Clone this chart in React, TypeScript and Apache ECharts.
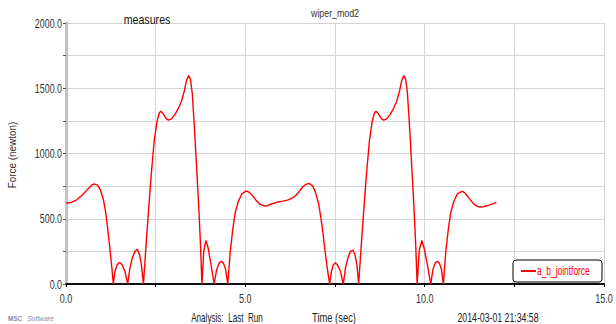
import React, { useEffect, useRef } from "react";
import * as echarts from "echarts";

const timeSec: number[] = [
  0.0, 0.15, 0.3, 0.45, 0.6, 0.7, 0.79, 0.88, 0.96, 1.04, 1.1, 1.16, 1.22, 1.28, 1.32,
  1.36, 1.42, 1.49, 1.56, 1.64, 1.72, 1.78, 1.85, 1.92, 1.99, 2.05, 2.1, 2.16,
  2.22, 2.3, 2.38, 2.46, 2.54, 2.6, 2.65, 2.72, 2.8, 2.86, 2.94, 3.04, 3.14, 3.22, 3.3,
  3.36, 3.42, 3.47, 3.52, 3.58, 3.64, 3.7, 3.75, 3.79, 3.84, 3.9, 3.96, 4.03, 4.13,
  4.2, 4.27, 4.33, 4.39, 4.45, 4.51, 4.58, 4.65, 4.72, 4.8, 4.9, 5.0, 5.05, 5.12,
  5.22, 5.32, 5.42, 5.52, 5.62, 5.75, 5.9, 6.05, 6.2, 6.35, 6.48, 6.6, 6.7, 6.79,
  6.88, 6.96, 7.04, 7.1, 7.16, 7.22, 7.28, 7.35, 7.4, 7.45, 7.51, 7.57, 7.65, 7.73,
  7.79, 7.86, 7.93, 8.0, 8.06, 8.11, 8.16, 8.22, 8.3, 8.38, 8.46, 8.54, 8.6, 8.65,
  8.72, 8.8, 8.86, 8.94, 9.04, 9.14, 9.22, 9.3, 9.36, 9.42, 9.47, 9.52, 9.58, 9.64,
  9.7, 9.75, 9.79, 9.85, 9.92, 9.98, 10.06, 10.17, 10.23, 10.29, 10.35, 10.41, 10.47,
  10.52, 10.59, 10.66, 10.73, 10.81, 10.91, 11.0, 11.06, 11.13, 11.23, 11.33, 11.43,
  11.53, 11.63, 11.75, 11.88, 12.0,
];

const forceNewton: number[] = [
  620, 625, 645, 680, 725, 755, 768, 758, 720, 650, 560, 430, 280, 120, 0,
  90, 145, 165, 150, 100, 0, 120, 200, 250, 265, 225, 150, 0,
  250, 560, 850, 1100, 1250, 1310, 1325, 1300, 1265, 1255, 1265, 1300, 1350, 1400, 1480,
  1560, 1598, 1570, 1460, 1200, 900, 600, 300, 0, 250, 333, 280, 170, 0,
  110, 160, 175, 160, 110, 0, 250, 420, 550, 630, 690, 710, 712, 700,
  670, 635, 610, 598, 600, 615, 628, 635, 645, 665, 700, 745, 765, 770,
  750, 700, 620, 520, 400, 260, 130, 0, 95, 145, 162, 145, 100, 0,
  120, 200, 250, 260, 220, 150, 0, 250, 560, 850, 1100, 1250, 1310, 1325,
  1300, 1265, 1255, 1265, 1300, 1350, 1400, 1480, 1560, 1598, 1570, 1460, 1200, 900,
  600, 300, 0, 260, 333, 280, 170, 0, 110, 160, 175, 160, 110,
  0, 250, 420, 550, 630, 690, 705, 710, 695, 660, 625, 600,
  590, 592, 600, 612, 625,
];

const xTickLabels: number[] = [0, 5, 10, 15];
const yTickLabels: number[] = [0, 500, 1000, 1500, 2000];

const seriesName = "a_b_jointforce";
const chartTitle = "wiper_mod2";
const subTitle = "measures";
const yAxisName = "Force (newton)";
const xAxisName = "Time (sec)";
const analysisText = "Analysis:  Last_Run";
const dateText = "2014-03-01 21:34:58";

const FONT = "'Liberation Sans', Arial, sans-serif";

function txt(
  text: string,
  x: number,
  y: number,
  size: number,
  fill: string,
  align: string,
  sx: number,
  extra: any = {}
) {
  return {
    type: "text",
    x,
    y,
    scaleX: sx,
    silent: true,
    style: { text, fontSize: size, fill, align, verticalAlign: "middle", fontFamily: FONT, ...extra },
  };
}

export default function App() {
  const ref = useRef<HTMLDivElement>(null);
  useEffect(() => {
    if (!ref.current) return;
    const chart = echarts.init(ref.current, null, { renderer: "svg" });
    const data = timeSec.map((t, i) => [t, forceNewton[i]]);
    chart.setOption({
      animation: false,
      textStyle: { fontFamily: FONT },
      grid: { left: 66, right: 12, top: 23, bottom: 40 },
      xAxis: [
        {
          type: "value",
          min: 0,
          max: 15,
          interval: 2.5,
          axisLine: { lineStyle: { color: "#000", width: 1.5 } },
          axisTick: { show: true, length: 3, lineStyle: { color: "#000" } },
          axisLabel: { show: false },
          splitLine: { show: true, lineStyle: { color: "#d4d4d4", width: 1 } },
        },
        {
          type: "value",
          position: "top",
          min: 0,
          max: 15,
          interval: 2.5,
          axisLine: { show: true, lineStyle: { color: "#000", width: 1.5 } },
          axisTick: { show: false },
          axisLabel: { show: false },
          splitLine: { show: false },
        },
      ],
      yAxis: [
        {
          type: "value",
          min: 0,
          max: 2000,
          interval: 250,
          axisLine: { show: true, lineStyle: { color: "#a8a8a8", width: 2.5 } },
          axisTick: { show: true, length: 3, lineStyle: { color: "#556" } },
          axisLabel: { show: false },
          splitLine: { show: true, lineStyle: { color: "#d4d4d4", width: 1 } },
        },
        {
          type: "value",
          position: "right",
          min: 0,
          max: 2000,
          interval: 250,
          axisLine: { show: true, lineStyle: { color: "#c4c4c4", width: 2 } },
          axisTick: { show: false },
          axisLabel: { show: false },
          splitLine: { show: false },
        },
      ],
      series: [
        {
          name: seriesName,
          type: "line",
          data,
          showSymbol: false,
          smooth: false,
          color: "#ff0000",
          lineStyle: { color: "#ff0000", width: 1.4 },
        },
      ],
    });

    const origin = chart.convertToPixel({ gridIndex: 0 }, [0, 0]) as number[];
    const labels: any[] = [];
    xTickLabels.forEach((v) => {
      const p = chart.convertToPixel({ gridIndex: 0 }, [v, 0]) as number[];
      labels.push(txt(v.toFixed(1), p[0], origin[1] + 14, 12, "#333", "center", 0.75));
    });
    yTickLabels.forEach((v) => {
      const p = chart.convertToPixel({ gridIndex: 0 }, [0, v]) as number[];
      labels.push(txt(v.toFixed(1), origin[0] - 4, p[1], 12, "#333", "right", 0.74));
    });

    chart.setOption({
      graphic: [
        ...labels,
        txt(chartTitle, 335, 13, 11, "#333", "center", 0.8),
        txt(subTitle, 147, 20, 13, "#111", "center", 0.82),
        {
          ...txt(yAxisName, 12, 155, 11, "#333", "center", 0.9),
          rotation: Math.PI / 2,
        },
        txt(analysisText, 227, 317, 12.5, "#222", "center", 0.65),
        txt(xAxisName, 334, 317, 12.5, "#222", "center", 0.75),
        txt(dateText, 498, 317, 12.5, "#222", "center", 0.7),
        txt("MSC", 8, 318, 7, "#8a8a9a", "left", 0.9, { fontWeight: "bold" }),
        txt("Software", 27, 318, 8, "#8a8a9a", "left", 0.85, { fontStyle: "italic" }),
        {
          type: "group",
          silent: true,
          children: [
            {
              type: "rect",
              shape: { x: 513, y: 260, width: 89, height: 22, r: 3 },
              style: { fill: "#fff", stroke: "#000", lineWidth: 1 },
            },
            {
              type: "line",
              shape: { x1: 521, y1: 271, x2: 536, y2: 271 },
              style: { stroke: "#ff0000", lineWidth: 2 },
            },
            txt(seriesName, 537, 271, 12, "#ff0000", "left", 0.7),
          ],
        },
      ],
    });
    return () => chart.dispose();
  }, []);
  return (
    <div
      ref={ref}
      style={{ position: "fixed", left: 0, top: 0, width: 616, height: 324, background: "#fff" }}
    />
  );
}
